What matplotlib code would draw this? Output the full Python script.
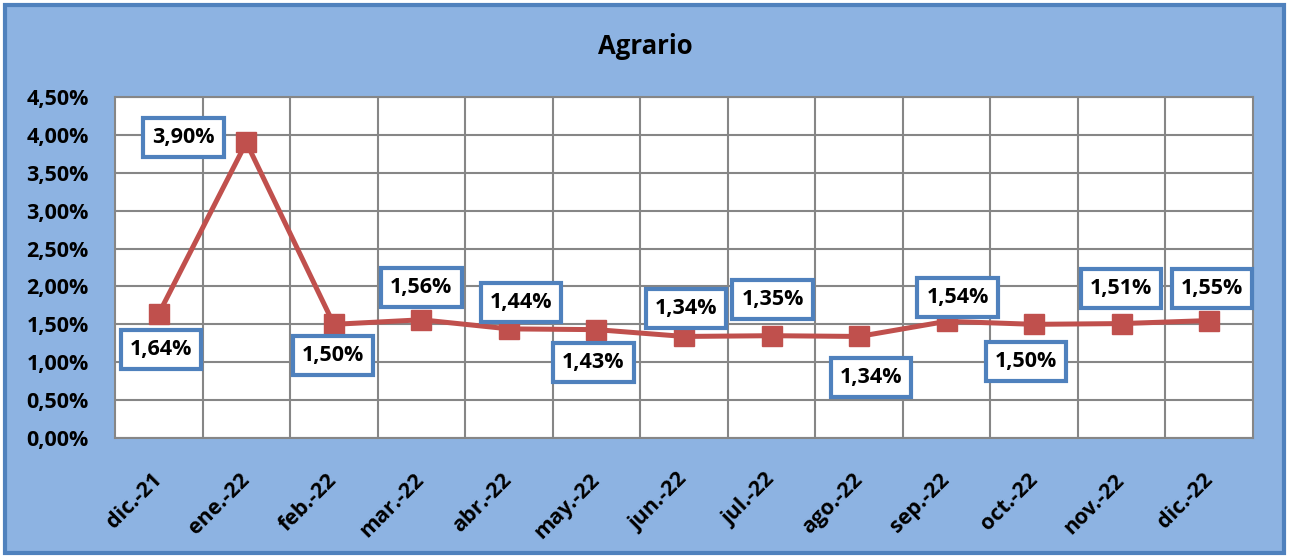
import matplotlib.pyplot as plt
import matplotlib.transforms as mtransforms
from matplotlib.patches import Rectangle
from matplotlib.ticker import FuncFormatter, MultipleLocator

months = ['dic.-21', 'ene.-22', 'feb.-22', 'mar.-22', 'abr.-22', 'may.-22', 'jun.-22',
          'jul.-22', 'ago.-22', 'sep.-22', 'oct.-22', 'nov.-22', 'dic.-22']
values = [1.64, 3.90, 1.50, 1.56, 1.44, 1.43, 1.34, 1.35, 1.34, 1.54, 1.50, 1.51, 1.55]
# label offsets in pixels (dx, dy) relative to the point
offsets = [(2, -36), (-63, 5), (-1, -31), (0, 32), (12, 26), (-3, -33), (2, 28),
           (1, 36), (12, -41), (11, 24), (-8, -37), (-1, 35), (3, 32)]

plt.rcParams['font.family'] = ['Open Sans', 'DejaVu Sans']

fig = plt.figure(figsize=(12.95, 5.58), dpi=100)
fig.patch.set_facecolor('white')
# chart area background with border
fig.patches.append(Rectangle((5 / 1295, 5 / 558), 1279 / 1295, 548 / 558,
                             transform=fig.transFigure, facecolor='#8DB3E2',
                             edgecolor='#4F81BD', linewidth=3, zorder=-1))

ax = fig.add_axes([115 / 1295, 1 - 438 / 558, (1253 - 115) / 1295, (438 - 97) / 558])
ax.set_facecolor('white')

x = list(range(len(months)))
ax.plot(x, values, color='#C0504D', linewidth=3.6, marker='s', markersize=14,
        zorder=3)

for xi, v, (dx, dy) in zip(x, values, offsets):
    ax.annotate(f'{v:.2f}%'.replace('.', ','), (xi, v),
                xytext=(dx * 0.72, dy * 0.72), textcoords='offset points',
                ha='center', va='center', fontsize=15.5, fontweight='bold',
                bbox=dict(boxstyle='square,pad=0.42', facecolor='white',
                          edgecolor='#4F81BD', linewidth=3), zorder=4)

ax.set_xlim(-0.5, len(months) - 0.5)
ax.set_ylim(0, 4.5)
ax.yaxis.set_major_locator(MultipleLocator(0.5))
ax.yaxis.set_major_formatter(FuncFormatter(lambda v, p: f'{v:.2f}%'.replace('.', ',')))
ax.set_xticks(x)
ax.set_xticklabels(months, rotation=45, ha='right', va='center',
                   rotation_mode='anchor', fontsize=15.5, fontweight='bold')
shift = mtransforms.ScaledTranslation(6 / 72, 0, fig.dpi_scale_trans)
for lbl in ax.get_xticklabels():
    lbl.set_transform(lbl.get_transform() + shift)
ax.set_xticks([i + 0.5 for i in x[:-1]], minor=True)
for lbl in ax.get_yticklabels():
    lbl.set_fontweight('bold')
    lbl.set_fontsize(15.5)
ax.tick_params(axis='both', which='both', length=0)
ax.tick_params(axis='y', pad=19)
ax.tick_params(axis='x', pad=28)
ax.grid(axis='y', which='major', color='#868686', linewidth=1.5)
ax.grid(axis='x', which='minor', color='#868686', linewidth=1.5)
ax.set_axisbelow(True)
for s in ax.spines.values():
    s.set_color('#868686')
    s.set_linewidth(1.5)

fig.text(645 / 1295, 1 - 47 / 558, 'Agrario', ha='center', va='center',
         fontsize=18.5, fontweight='bold')

fig.savefig('out.png', dpi=100)
